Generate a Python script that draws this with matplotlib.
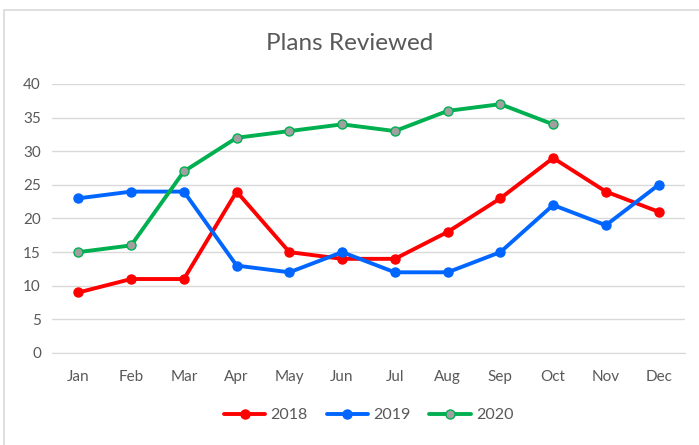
import matplotlib
matplotlib.use("Agg")
import matplotlib.pyplot as plt
from matplotlib.patches import Rectangle

months = ['Jan', 'Feb', 'Mar', 'Apr', 'May', 'Jun', 'Jul', 'Aug', 'Sep', 'Oct', 'Nov', 'Dec']
y2018 = [9, 11, 11, 24, 15, 14, 14, 18, 23, 29, 24, 21]
y2019 = [23, 24, 24, 13, 12, 15, 12, 12, 15, 22, 19, 25]
y2020 = [15, 16, 27, 32, 33, 34, 33, 36, 37, 34]

plt.rcParams['font.family'] = ['Lato', 'DejaVu Sans']

fig = plt.figure(figsize=(6.99, 4.45), dpi=100)
# chart frame (Excel style, cropped on right/bottom)
fig.patches.append(Rectangle((4 / 699, -0.1), 1.2, 1 - 10 / 445 + 0.1, transform=fig.transFigure,
                             fill=False, edgecolor='#d9d9d9', linewidth=1.2))

ax = fig.add_axes([52 / 699, 1 - 353 / 445, 633 / 699, 269 / 445])
x = list(range(len(months)))

ax.plot(x, y2018, color='#ff0000', lw=2.8, marker='o', ms=6.5, label='2018', solid_capstyle='round')
ax.plot(x, y2019, color='#0066ff', lw=2.8, marker='o', ms=6.5, label='2019', solid_capstyle='round')
ax.plot(x[:len(y2020)], y2020, color='#00b050', lw=2.8, marker='o', ms=6.5,
        markerfacecolor='#a0a0a0', markeredgecolor='#00b050', markeredgewidth=1.0,
        label='2020', solid_capstyle='round')

ax.set_xlim(-0.5, 11.5)
ax.set_ylim(0, 40)
ax.set_yticks(range(0, 41, 5))
ax.set_xticks(x)
ax.set_xticklabels(months)
ax.grid(axis='y', color='#d9d9d9', lw=1)
ax.set_axisbelow(True)
for s in ['top', 'right', 'left']:
    ax.spines[s].set_visible(False)
ax.spines['bottom'].set_color('#d9d9d9')
ax.tick_params(length=0, labelsize=11, colors='#595959', pad=8)
ax.tick_params(axis='x', pad=12)

fig.text(0.5, 1 - 44 / 445, 'Plans Reviewed', ha='center', va='center', fontsize=17.5, color='#595959')

ax.legend(loc='center', bbox_to_anchor=(0.5, (353 - 415) / 269), ncol=3, frameon=False,
          fontsize=11.5, labelcolor='#595959', handlelength=2.6, columnspacing=1.2, handletextpad=0.3)

fig.savefig('out.png', dpi=100)
